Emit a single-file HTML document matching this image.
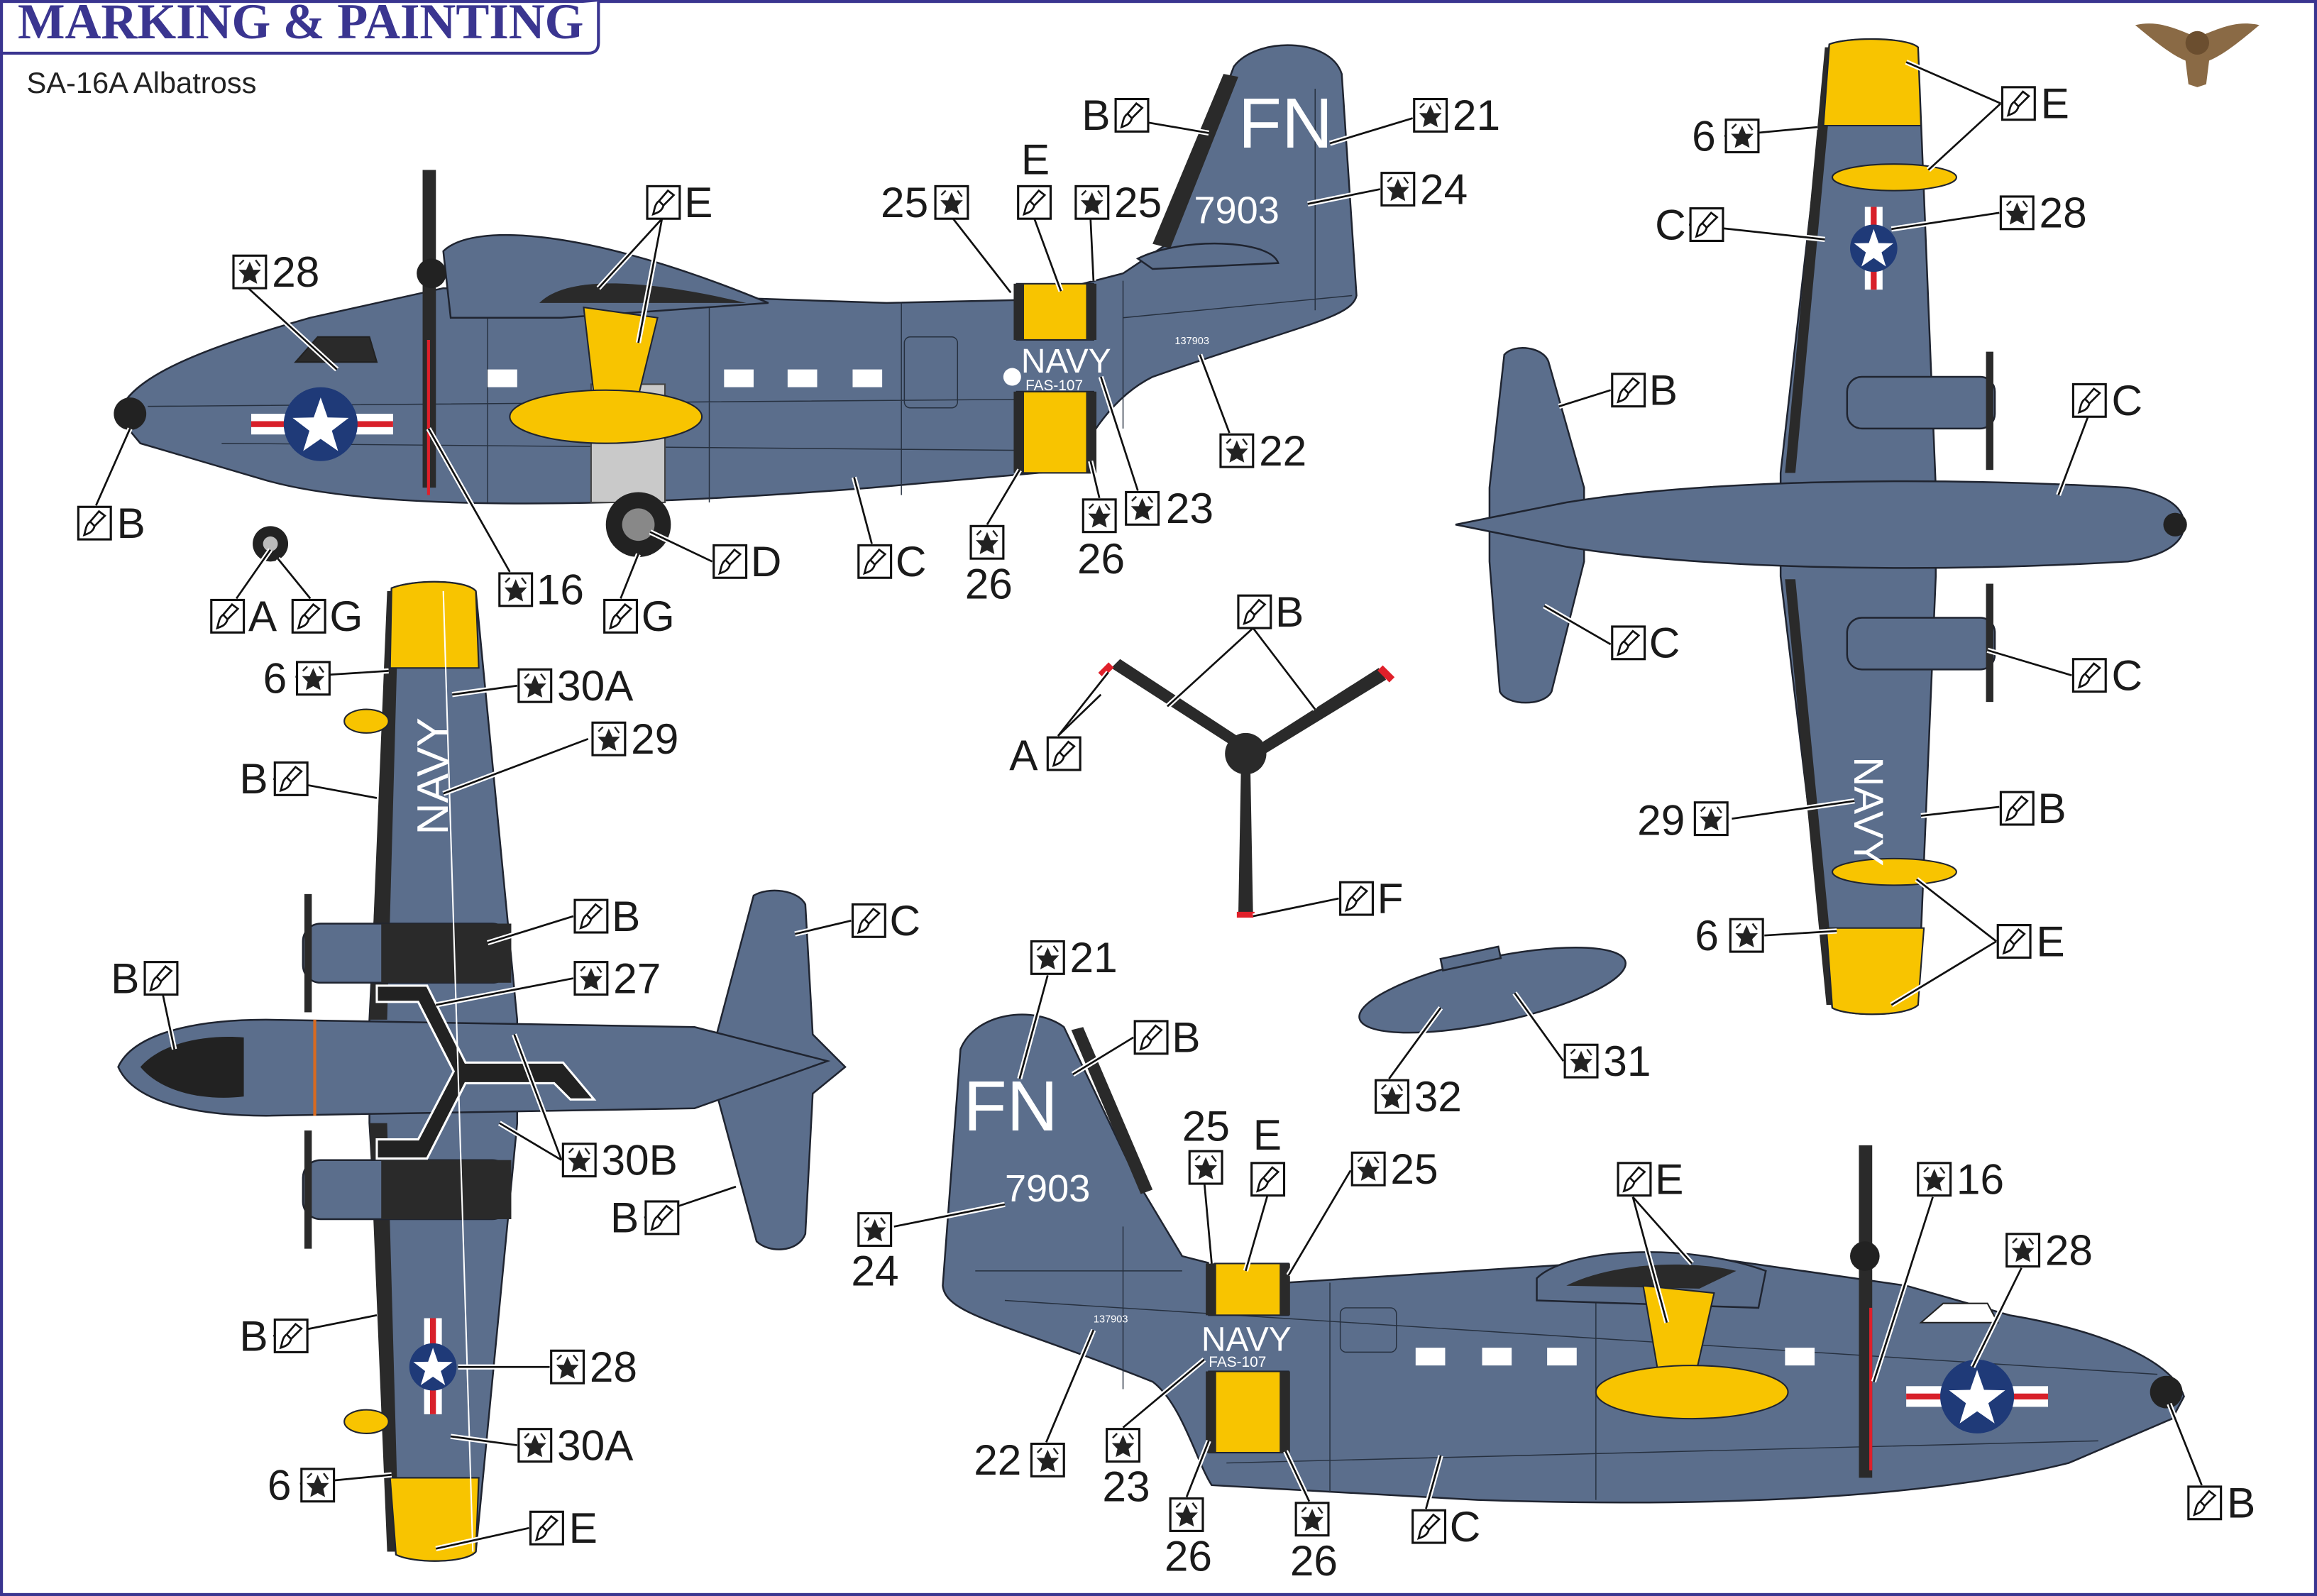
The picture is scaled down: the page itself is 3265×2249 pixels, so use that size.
<!DOCTYPE html>
<html><head><meta charset="utf-8"><style>
html,body{margin:0;padding:0;background:#fff}
svg{display:block}
.t{font-family:"Liberation Sans Narrow","Liberation Sans",sans-serif;font-size:29px;fill:#1a1a1a}
.l{stroke:#111;stroke-width:1.3;fill:none}
.lw{stroke:#fff;stroke-width:3.5;fill:none}
.g{fill:#5b6e8c;stroke:#1f2430;stroke-width:1.2}
.y{fill:#f8c400;stroke:#1f2430;stroke-width:1}
.k{fill:#2a2a2a}
.pl{stroke:#26303f;stroke-width:.7;fill:none}
</style></head><body>
<svg width="3265" height="2249" viewBox="0 0 1568 1080" preserveAspectRatio="none" xmlns="http://www.w3.org/2000/svg">
<defs>
<symbol id="dk" viewBox="0 0 24 24"><rect x="1" y="1" width="22" height="22" fill="#fff" stroke="#111" stroke-width="1.5"/><path d="M12,5 14.4,10.6 19.6,10.5 15.8,14.5 17,20 12,17.3 7,20 8.2,14.5 4.4,10.5 9.6,10.6Z" fill="#222"/><path d="M5,7 L8,4 M16,4 L19,8" stroke="#222" stroke-width="1.2"/></symbol>
<symbol id="pt" viewBox="0 0 24 24"><rect x="1" y="1" width="22" height="22" fill="#fff" stroke="#111" stroke-width="1.5"/><path d="M15,4 L19,7 L12,14 L9,11 Z M9,11 C6,13 6,17 5,20 C8,19 11,18 12,14" stroke="#111" stroke-width="1.3" fill="none"/></symbol>
<g id="star"><path d="M0,-20 4.7,-6.5 19,-6.2 7.6,2.5 11.8,16.2 0,8 -11.8,16.2 -7.6,2.5 -19,-6.2 -4.7,-6.5Z" fill="#fff"/></g>
</defs>
<rect x="1" y="1" width="1566" height="1078" fill="#fff" stroke="#3a3590" stroke-width="2"/>
<path d="M1,36 L398,36 Q405,36 405,29 L405,1" fill="#fff" stroke="#3a3590" stroke-width="2"/>
<text x="12" y="26" font-family="Liberation Serif,serif" font-weight="bold" font-size="34" fill="#3a3590" textLength="383" lengthAdjust="spacingAndGlyphs">MARKING &amp; PAINTING</text>
<text x="18" y="63" font-family="Liberation Sans,sans-serif" font-size="20" fill="#222">SA-16A Albatross</text>
<!-- owl -->
<g transform="translate(1487,33)"><path d="M-42,-16 C-25,-20 -12,-12 0,-8 C12,-12 25,-20 42,-16 C30,-6 18,4 8,8 L6,24 L0,26 L-6,24 L-8,8 C-18,4 -30,-6 -42,-16Z" fill="#8a6a45"/><circle cx="0" cy="-4" r="8" fill="#6b4e2f"/></g>

<!-- TOP LEFT SIDE VIEW -->
<g>
<path class="g" d="M80,282 C85,255 140,235 210,215 L300,195 L600,205 L690,203 L760,185 L790,165 L835,45 C850,25 900,25 908,50 L918,200 C915,215 880,220 780,255 C750,270 735,300 725,318 L590,330 C400,345 250,345 180,325 L95,300 Z"/>
<path class="k" d="M780,165 L828,50 L838,52 L792,168Z"/>
<path class="pl" d="M100,275 L720,270 M150,300 L720,305 M330,200 L330,340 M480,205 L480,340 M610,205 L610,335 M760,190 L760,290 M890,60 L890,210 M760,215 L915,200"/>
<path class="g" d="M300,170 C320,150 400,155 520,205 L380,215 L305,215Z"/>
<path class="k" d="M365,205 C380,190 420,185 505,205 L470,205Z"/>
<path class="g" d="M770,175 C800,160 860,162 865,178 L780,182Z"/>
<path class="k" d="M200,245 L215,228 L250,228 L255,245Z" fill="#fff" stroke="#222"/>
<rect x="330" y="250" width="20" height="12" fill="#fff"/><rect x="490" y="250" width="20" height="12" fill="#fff"/><rect x="533" y="250" width="20" height="12" fill="#fff"/><rect x="577" y="250" width="20" height="12" fill="#fff"/>
<rect x="612" y="228" width="36" height="48" rx="4" class="pl"/>
<rect x="400" y="260" width="50" height="80" fill="#c9c9c9" stroke="#444"/>
<path class="y" d="M395,208 L445,215 L432,268 L402,268Z"/>
<ellipse class="y" cx="410" cy="282" rx="65" ry="18"/>
<circle cx="88" cy="280" r="11" fill="#222"/>
<rect x="286" y="115" width="9" height="215" class="k"/>
<line x1="290" y1="230" x2="290" y2="335" stroke="#e0202a" stroke-width="2"/>
<circle cx="292" cy="185" r="10" fill="#222"/>
<circle cx="432" cy="355" r="22" fill="#222"/><circle cx="432" cy="355" r="11" fill="#888"/>
<circle cx="183" cy="368" r="12" fill="#222"/><circle cx="183" cy="368" r="5" fill="#bbb"/>
<rect x="170" y="280" width="96" height="14" fill="#fff"/><rect x="170" y="285" width="96" height="4" fill="#d8202a"/>
<circle cx="217" cy="287" r="25" fill="#1f3a78"/><use href="#star" transform="translate(217,289)"/>
<rect x="688" y="192" width="52" height="38" class="y"/><rect x="688" y="265" width="52" height="55" class="y"/>
<rect x="686" y="192" width="7" height="38" class="k"/><rect x="735" y="192" width="7" height="38" class="k"/>
<rect x="686" y="265" width="7" height="55" class="k"/><rect x="735" y="265" width="7" height="55" class="k"/>
<circle cx="685" cy="255" r="6" fill="#fff"/>
<text x="691" y="252" font-family="Liberation Sans Narrow,Liberation Sans,sans-serif" font-size="23" fill="#fff">NAVY</text>
<text x="694" y="264" font-family="Liberation Sans,sans-serif" font-size="10" fill="#fff">FAS-107</text>
<text x="795" y="233" font-family="Liberation Sans,sans-serif" font-size="7" fill="#fff">137903</text>
<text x="838" y="100" font-family="Liberation Sans,sans-serif" font-size="48" fill="#fff">FN</text>
<text x="808" y="151" font-family="Liberation Sans,sans-serif" font-size="26" fill="#fff">7903</text>
</g>

<!-- TOP RIGHT TOP VIEW -->
<g>
<path class="g" d="M1238,30 C1250,25 1290,25 1298,32 L1310,330 L1310,390 L1298,680 C1290,688 1250,688 1240,682 L1205,390 L1205,320Z"/>
<path class="k" d="M1235,32 L1242,32 L1215,320 L1208,320Z M1208,392 L1215,392 L1243,680 L1236,680Z"/>
<path class="y" d="M1238,30 C1250,25 1290,25 1298,32 L1300,85 L1234,85Z"/>
<path class="y" d="M1236,628 L1302,628 L1298,680 C1290,688 1250,688 1240,682Z"/>
<path class="g" d="M1018,240 C1025,232 1045,235 1048,245 L1072,330 L1072,380 L1050,468 C1045,478 1020,478 1015,468 L1008,380 L1008,330Z"/>
<path class="g" d="M985,355 L1060,340 C1150,325 1300,322 1440,330 C1470,335 1478,345 1478,355 C1478,365 1470,375 1440,380 C1300,388 1150,385 1060,370Z"/>
<circle cx="1472" cy="355" r="8" fill="#222"/>
<rect x="1250" y="255" width="100" height="35" rx="10" class="g"/><rect x="1250" y="418" width="100" height="35" rx="10" class="g"/>
<rect x="1344" y="238" width="5" height="80" class="k"/><rect x="1344" y="395" width="5" height="80" class="k"/>
<ellipse class="y" cx="1282" cy="120" rx="42" ry="9"/><ellipse class="y" cx="1282" cy="590" rx="42" ry="9"/>
<rect x="1262" y="140" width="12" height="56" fill="#fff"/><rect x="1266" y="140" width="4" height="56" fill="#d8202a"/>
<circle cx="1268" cy="168" r="16" fill="#1f3a78"/><use href="#star" transform="translate(1268,169) scale(.7)"/>
<text x="0" y="0" transform="translate(1255,512) rotate(90)" font-family="Liberation Sans,sans-serif" font-size="28" fill="#fff">NAVY</text>
</g>

<!-- PROPELLER -->
<g>
<path d="M842,510 L752,452 L758,446 L848,505Z" class="k"/><path d="M842,510 L933,452 L938,460 L848,515Z" class="k"/><path d="M840,510 L838,620 L848,620 L846,510Z" class="k"/>
<path d="M745,457 L752,450" stroke="#e0202a" stroke-width="5"/><path d="M934,452 L942,460" stroke="#e0202a" stroke-width="5"/><path d="M837,619 L849,619" stroke="#e0202a" stroke-width="4"/>
<circle cx="843" cy="510" r="14" fill="#2a2a2a"/>
</g>

<!-- DROP TANK -->
<g transform="translate(1010,670) rotate(-12)"><ellipse class="g" cx="0" cy="0" rx="92" ry="22"/><rect x="-30" y="-28" width="40" height="8" class="g"/></g>

<!-- BOTTOM LEFT BOTTOM VIEW -->
<g>
<path class="g" d="M265,398 C280,392 315,392 322,400 L350,690 L350,760 L322,1050 C315,1058 280,1058 268,1052 L250,760 L250,690Z"/>
<path class="k" d="M250,690 L262,690 L270,400 L262,400Z M250,760 L262,760 L270,1050 L262,1050Z"/>
<path class="y" d="M265,398 C280,392 315,392 322,400 L324,452 L264,452Z"/>
<path class="y" d="M264,1000 L324,1000 L322,1050 C315,1058 280,1058 268,1052Z"/>
<path class="g" d="M510,606 C520,600 540,602 545,612 L550,700 L572,722 L550,740 L545,835 C540,848 520,848 512,840 L485,740 L485,700Z"/>
<path class="g" d="M80,722 C90,700 130,690 180,690 L470,695 L560,718 L470,750 L180,755 C130,755 90,745 80,722Z"/>
<path d="M95,722 C110,705 140,700 165,702 L165,742 C140,745 110,740 95,722Z" fill="#222"/>
<rect x="205" y="625" width="140" height="40" rx="12" class="g"/><rect x="205" y="785" width="140" height="40" rx="12" class="g"/>
<rect x="258" y="625" width="88" height="40" class="k"/><rect x="258" y="785" width="88" height="40" class="k"/>
<rect x="206" y="605" width="5" height="80" class="k"/><rect x="206" y="765" width="5" height="80" class="k"/>
<path d="M255,667 L289,667 L315,719 L381,719 L402,744 L386,744 L375,733 L315,733 L289,784 L255,784 L255,771 L283,771 L307,725 L283,678 L255,678Z" fill="#222" stroke="#fff" stroke-width="1.5"/>
<line x1="213" y1="690" x2="213" y2="755" stroke="#d86a20" stroke-width="2"/>
<path d="M300,400 L320,1050" stroke="#fff" stroke-width="1"/>
<text x="0" y="0" transform="translate(303,565) rotate(-90)" font-family="Liberation Sans,sans-serif" font-size="30" fill="#fff">NAVY</text>
<rect x="287" y="892" width="12" height="65" fill="#fff"/><rect x="291" y="892" width="4" height="65" fill="#d8202a"/>
<circle cx="293" cy="925" r="16" fill="#1f3a78"/><use href="#star" transform="translate(293,926) scale(.7)"/>
<ellipse class="y" cx="248" cy="488" rx="15" ry="8"/><ellipse class="y" cx="248" cy="962" rx="15" ry="8"/>
</g>

<!-- BOTTOM RIGHT SIDE VIEW -->
<g>
<path class="g" d="M1478,945 C1470,920 1420,900 1360,890 L1290,870 L1150,850 L870,868 L800,850 L770,800 L720,695 C700,680 660,685 650,710 L638,870 C640,890 680,895 780,935 C800,950 810,990 820,1005 L1000,1015 C1150,1020 1300,1015 1400,990 L1470,960 Z"/>
<path class="k" d="M725,697 L772,808 L780,805 L733,695Z"/>
<path class="pl" d="M660,860 L800,860 M680,880 L1460,930 M830,990 L1420,975 M900,868 L900,1010 M1080,855 L1080,1015 M760,830 L760,940"/>
<path class="g" d="M1040,865 C1060,845 1140,840 1195,860 L1190,885 L1040,880Z"/>
<path class="k" d="M1060,870 C1090,855 1140,852 1175,860 L1150,872Z"/>
<rect x="958" y="912" width="20" height="12" fill="#fff"/><rect x="1003" y="912" width="20" height="12" fill="#fff"/><rect x="1047" y="912" width="20" height="12" fill="#fff"/><rect x="1208" y="912" width="20" height="12" fill="#fff"/>
<rect x="907" y="885" width="38" height="30" rx="4" class="pl"/>
<path class="y" d="M1112,870 L1160,875 L1148,928 L1122,928Z"/>
<ellipse class="y" cx="1145" cy="942" rx="65" ry="18"/>
<rect x="1258" y="775" width="9" height="225" class="k"/>
<line x1="1266" y1="885" x2="1266" y2="995" stroke="#e0202a" stroke-width="2"/>
<circle cx="1262" cy="850" r="10" fill="#222"/>
<path d="M1300,895 L1315,882 L1345,882 L1352,895Z" fill="#fff" stroke="#222"/>
<circle cx="1466" cy="942" r="11" fill="#222"/>
<rect x="1290" y="938" width="96" height="14" fill="#fff"/><rect x="1290" y="943" width="96" height="4" fill="#d8202a"/>
<circle cx="1338" cy="945" r="25" fill="#1f3a78"/><use href="#star" transform="translate(1338,947)"/>
<rect x="818" y="855" width="54" height="35" class="y"/><rect x="818" y="928" width="54" height="55" class="y"/>
<rect x="816" y="855" width="7" height="35" class="k"/><rect x="866" y="855" width="7" height="35" class="k"/>
<rect x="816" y="928" width="7" height="55" class="k"/><rect x="866" y="928" width="7" height="55" class="k"/>
<text x="813" y="914" font-family="Liberation Sans Narrow,Liberation Sans,sans-serif" font-size="23" fill="#fff">NAVY</text>
<text x="818" y="925" font-family="Liberation Sans,sans-serif" font-size="10" fill="#fff">FAS-107</text>
<text x="740" y="895" font-family="Liberation Sans,sans-serif" font-size="7" fill="#fff">137903</text>
<text x="652" y="765" font-family="Liberation Sans,sans-serif" font-size="48" fill="#fff">FN</text>
<text x="680" y="813" font-family="Liberation Sans,sans-serif" font-size="26" fill="#fff">7903</text>
</g>

<!-- LEADER LINES -->
<g id="ll">
<path d="M168,195 L228,250 M448,148 L405,195 M448,148 L432,232 M65,342 L88,290 M160,405 L183,372 M210,405 L188,378 M345,387 L290,290 M420,405 L432,375 M482,380 L440,360 M590,368 L578,323 M668,355 L690,318 M744,337 L738,312 M770,332 L745,255 M832,293 L812,240 M645,148 L684,198 M700,148 L718,197 M738,148 L740,190 M760,80 L818,90 M956,80 L900,97 M934,128 L885,138
M1354,70 L1290,42 M1354,70 L1305,115 M1167,92 L1230,86 M1143,152 L1235,162 M1353,144 L1280,155 M1090,264 L1055,275 M1413,282 L1393,335 M1090,436 L1045,410 M1402,457 L1345,440 M1353,546 L1300,552 M1172,554 L1255,542 M1194,633 L1243,630 M1351,637 L1297,595 M1351,637 L1280,680
M848,425 L790,478 M848,425 L890,480 M716,498 L750,455 M716,498 L745,470 M906,608 L848,620 M940,730 L975,682 M1058,718 L1025,672
M200,458 L263,454 M350,464 L306,470 M398,500 L300,537 M185,527 L255,540 M388,620 L330,638 M576,623 L538,632 M110,672 L118,710 M388,662 L295,680 M380,785 L348,700 M380,785 L338,760 M436,824 L498,803 M185,904 L255,890 M372,925 L310,925 M350,978 L305,972 M203,1004 L265,998 M358,1034 L295,1048
M709,660 L690,730 M767,702 L726,727 M815,800 L820,855 M858,808 L843,860 M914,792 L872,863 M605,830 L680,815 M708,976 L740,900 M760,966 L815,920 M803,1013 L818,975 M886,1016 L870,982 M965,1021 L975,985 M1105,810 L1128,895 M1105,810 L1145,855 M1308,810 L1268,935 M1368,858 L1335,925 M1490,1005 L1468,950"/>
</g>
<use href="#ll" class="lw"/>
<use href="#ll" class="l"/>

<!-- LABELS -->
<g class="t">
<use href="#dk" x="157" y="172" width="24" height="24"/><text x="184" y="194">28</text>
<use href="#pt" x="437" y="125" width="24" height="24"/><text x="463" y="147">E</text>
<use href="#pt" x="52" y="342" width="24" height="24"/><text x="79" y="364">B</text>
<use href="#pt" x="142" y="405" width="24" height="24"/><text x="168" y="427">A</text>
<use href="#pt" x="197" y="405" width="24" height="24"/><text x="223" y="427">G</text>
<use href="#dk" x="337" y="387" width="24" height="24"/><text x="363" y="409">16</text>
<use href="#pt" x="408" y="405" width="24" height="24"/><text x="434" y="427">G</text>
<use href="#pt" x="482" y="368" width="24" height="24"/><text x="508" y="390">D</text>
<use href="#pt" x="580" y="368" width="24" height="24"/><text x="606" y="390">C</text>
<use href="#dk" x="656" y="355" width="24" height="24"/><text x="653" y="405">26</text>
<use href="#dk" x="732" y="337" width="24" height="24"/><text x="729" y="388">26</text>
<use href="#dk" x="761" y="332" width="24" height="24"/><text x="789" y="354">23</text>
<use href="#dk" x="825" y="293" width="24" height="24"/><text x="852" y="315">22</text>
<use href="#dk" x="632" y="125" width="24" height="24"/><text x="596" y="147">25</text>
<use href="#pt" x="688" y="125" width="24" height="24"/><text x="691" y="118">E</text>
<use href="#dk" x="727" y="125" width="24" height="24"/><text x="754" y="147">25</text>
<use href="#pt" x="754" y="66" width="24" height="24"/><text x="732" y="88">B</text>
<use href="#dk" x="956" y="66" width="24" height="24"/><text x="983" y="88">21</text>
<use href="#dk" x="934" y="116" width="24" height="24"/><text x="961" y="138">24</text>

<use href="#pt" x="1354" y="58" width="24" height="24"/><text x="1381" y="80">E</text>
<use href="#dk" x="1167" y="80" width="24" height="24"/><text x="1145" y="102">6</text>
<use href="#pt" x="1143" y="140" width="24" height="24"/><text x="1120" y="162">C</text>
<use href="#dk" x="1353" y="132" width="24" height="24"/><text x="1380" y="154">28</text>
<use href="#pt" x="1090" y="252" width="24" height="24"/><text x="1116" y="274">B</text>
<use href="#pt" x="1402" y="259" width="24" height="24"/><text x="1429" y="281">C</text>
<use href="#pt" x="1090" y="423" width="24" height="24"/><text x="1116" y="445">C</text>
<use href="#pt" x="1402" y="445" width="24" height="24"/><text x="1429" y="467">C</text>
<use href="#pt" x="1353" y="535" width="24" height="24"/><text x="1379" y="557">B</text>
<use href="#dk" x="1146" y="542" width="24" height="24"/><text x="1108" y="565">29</text>
<use href="#dk" x="1170" y="621" width="24" height="24"/><text x="1147" y="643">6</text>
<use href="#pt" x="1351" y="625" width="24" height="24"/><text x="1378" y="647">E</text>

<use href="#pt" x="837" y="402" width="24" height="24"/><text x="863" y="424">B</text>
<use href="#pt" x="708" y="498" width="24" height="24"/><text x="683" y="521">A</text>
<use href="#pt" x="906" y="596" width="24" height="24"/><text x="932" y="618">F</text>
<use href="#dk" x="930" y="730" width="24" height="24"/><text x="957" y="752">32</text>
<use href="#dk" x="1058" y="706" width="24" height="24"/><text x="1085" y="728">31</text>

<use href="#dk" x="200" y="447" width="24" height="24"/><text x="178" y="469">6</text>
<use href="#dk" x="350" y="452" width="24" height="24"/><text x="377" y="474">30A</text>
<use href="#dk" x="400" y="488" width="24" height="24"/><text x="427" y="510">29</text>
<use href="#pt" x="185" y="515" width="24" height="24"/><text x="162" y="537">B</text>
<use href="#pt" x="388" y="608" width="24" height="24"/><text x="414" y="630">B</text>
<use href="#pt" x="576" y="611" width="24" height="24"/><text x="602" y="633">C</text>
<use href="#pt" x="97" y="650" width="24" height="24"/><text x="75" y="672">B</text>
<use href="#dk" x="388" y="650" width="24" height="24"/><text x="415" y="672">27</text>
<use href="#dk" x="380" y="773" width="24" height="24"/><text x="407" y="795">30B</text>
<use href="#pt" x="436" y="812" width="24" height="24"/><text x="413" y="834">B</text>
<use href="#pt" x="185" y="892" width="24" height="24"/><text x="162" y="914">B</text>
<use href="#dk" x="372" y="913" width="24" height="24"/><text x="399" y="935">28</text>
<use href="#dk" x="350" y="966" width="24" height="24"/><text x="377" y="988">30A</text>
<use href="#dk" x="203" y="993" width="24" height="24"/><text x="181" y="1015">6</text>
<use href="#pt" x="358" y="1022" width="24" height="24"/><text x="385" y="1044">E</text>

<use href="#dk" x="697" y="636" width="24" height="24"/><text x="724" y="658">21</text>
<use href="#pt" x="767" y="690" width="24" height="24"/><text x="793" y="712">B</text>
<use href="#dk" x="804" y="778" width="24" height="24"/><text x="800" y="772">25</text>
<use href="#pt" x="846" y="786" width="24" height="24"/><text x="848" y="778">E</text>
<use href="#dk" x="914" y="779" width="24" height="24"/><text x="941" y="801">25</text>
<use href="#dk" x="580" y="820" width="24" height="24"/><text x="576" y="870">24</text>
<use href="#dk" x="697" y="976" width="24" height="24"/><text x="659" y="998">22</text>
<use href="#dk" x="748" y="966" width="24" height="24"/><text x="746" y="1016">23</text>
<use href="#dk" x="791" y="1013" width="24" height="24"/><text x="788" y="1063">26</text>
<use href="#dk" x="876" y="1016" width="24" height="24"/><text x="873" y="1066">26</text>
<use href="#pt" x="955" y="1021" width="24" height="24"/><text x="981" y="1043">C</text>
<use href="#pt" x="1094" y="786" width="24" height="24"/><text x="1120" y="808">E</text>
<use href="#dk" x="1297" y="786" width="24" height="24"/><text x="1324" y="808">16</text>
<use href="#dk" x="1357" y="834" width="24" height="24"/><text x="1384" y="856">28</text>
<use href="#pt" x="1480" y="1005" width="24" height="24"/><text x="1507" y="1027">B</text>
</g>
</svg>
</body></html>
